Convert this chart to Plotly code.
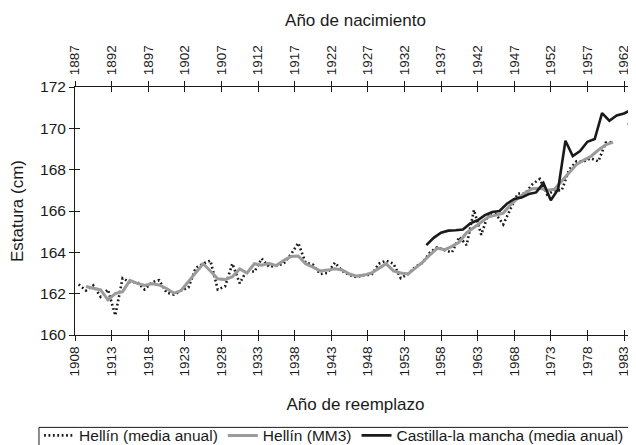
import plotly.graph_objects as go

# ---------------- data ----------------
years_annual = list(range(1908, 1985))
hellin_annual = [
    162.45, 162.15, 162.40, 161.85, 162.20, 160.95, 162.75, 162.55, 162.55, 162.20,  # 1908-1917
    162.55, 162.65, 162.05, 161.95, 162.15, 162.30, 163.25, 163.45, 163.60, 162.20,  # 1918-1927
    162.35, 163.45, 162.50, 163.15, 163.05, 163.70, 163.30, 163.35, 163.45, 163.90,  # 1928-1937
    164.45, 163.50, 163.40, 162.95, 163.00, 163.50, 163.10, 162.90, 162.80, 162.90,  # 1938-1947
    162.90, 163.45, 163.60, 163.45, 162.75, 162.95, 163.30, 163.50, 164.00, 164.25,  # 1948-1957
    164.10, 164.00, 164.75, 164.35, 166.05, 164.85, 165.90, 165.85, 165.35, 166.10,  # 1958-1967
    166.85, 166.85, 167.30, 167.55, 166.80, 167.00, 167.00, 168.00, 168.40, 168.40,  # 1968-1977
    168.55, 168.40, 169.30, 169.35, None, 170.20, 170.25,                            # 1978-1984
]

years_mm3 = list(range(1909, 1982))
hellin_mm3 = [
    162.35, 162.25, 162.18, 161.70, 162.00, 162.10, 162.64, 162.50, 162.40,          # 1909-1917
    162.48, 162.42, 162.25, 162.03, 162.15, 162.60, 163.00, 163.45, 163.10, 162.72,  # 1918-1927
    162.68, 162.82, 163.20, 163.00, 163.45, 163.38, 163.47, 163.36, 163.60, 163.80,  # 1928-1937
    163.82, 163.45, 163.28, 163.10, 163.14, 163.20, 163.15, 162.95, 162.85, 162.90,  # 1938-1947
    163.00, 163.22, 163.45, 163.10, 163.00, 162.95, 163.25, 163.52, 163.88, 164.20,  # 1948-1957
    164.13, 164.29, 164.50, 164.95, 165.20, 165.45, 165.72, 165.80, 165.90, 166.30,  # 1958-1967
    166.62, 166.88, 167.08, 167.10, 167.00, 167.05, 167.45, 167.85, 168.25, 168.46,  # 1968-1977
    168.65, 168.95, 169.20, 169.33,                                                  # 1978-1981
]

years_clm = list(range(1956, 1986))
castilla = [
    164.35, 164.70, 164.95, 165.05, 165.07, 165.10, 165.40, 165.55, 165.80, 165.95,  # 1956-1965
    166.00, 166.35, 166.58, 166.65, 166.82, 166.90, 167.35, 166.52, 167.05, 169.40,  # 1966-1975
    168.66, 168.90, 169.35, 169.48, 170.74, 170.37, 170.62, 170.72, 170.90, 171.10,  # 1976-1985
]

tick_reemplazo = list(range(1908, 1984, 5))
tick_nacimiento = list(range(1887, 1963, 5))
y_ticks = [160, 162, 164, 166, 168, 170, 172]

# ---------------- figure ----------------
FONT = "Liberation Sans, Arial, Helvetica, sans-serif"
INK = "#1a1a1a"
R0, R1 = 1908, 1984.64          # visible replacement-year window
SHIFT = 0.5                      # Hellín series sit mid-year
OFFSET = 21                      # birth year = replacement year - 21

fig = go.Figure()

fig.add_trace(go.Scatter(
    x=years_annual, y=hellin_annual, mode="lines", name="Hellín (media anual)",
    line=dict(color=INK, width=2.6, dash="1.8px,2.6px"), connectgaps=False,
    xaxis="x", yaxis="y"))
fig.add_trace(go.Scatter(
    x=years_mm3, y=hellin_mm3, mode="lines", name="Hellín (MM3)",
    line=dict(color="#9b9b9b", width=3), xaxis="x", yaxis="y"))
fig.add_trace(go.Scatter(
    x=years_clm, y=castilla, mode="lines", name="Castilla-la mancha (media anual)",
    line=dict(color=INK, width=2.6), xaxis="x3", yaxis="y"))

for xa, ya in [("x2", "y"), ("x4", "y"), ("x5", "y"), ("x6", "y"), ("x", "y2")]:
    fig.add_trace(go.Scatter(x=[None], y=[None], xaxis=xa, yaxis=ya,
                             showlegend=False, hoverinfo="skip"))

tick_common = dict(tickmode="array", ticklen=5, tickwidth=1, tickcolor=INK,
                   showgrid=False, zeroline=False, automargin=False)

# the page body adds an 8px margin; margins below compensate for it
fig.update_layout(
    width=636, height=445,
    margin=dict(l=67, r=8, t=79, b=118, autoexpand=False),
    paper_bgcolor="white", plot_bgcolor="white",
    font=dict(family=FONT, color=INK),
    showlegend=True,
    xaxis=dict(range=[R0 - SHIFT, R1 - SHIFT], visible=False, automargin=False),
    xaxis3=dict(range=[R0, R1], overlaying="x", visible=False, automargin=False),
    xaxis2=dict(range=[R0, R1], overlaying="x", anchor="y", side="bottom",
                tickvals=tick_reemplazo, ticktext=[str(v) for v in tick_reemplazo],
                ticks="outside", showline=True, linecolor=INK, linewidth=1,
                tickangle=-90, tickfont=dict(size=13.5, color=INK),
                title=dict(text="Año de reemplazo", font=dict(size=17, color=INK), standoff=22),
                **tick_common),
    xaxis4=dict(range=[R0 - OFFSET, R1 - OFFSET], overlaying="x", anchor="y", side="top",
                tickvals=tick_nacimiento, ticktext=[str(v) for v in tick_nacimiento],
                ticks="outside", showline=True, linecolor=INK, linewidth=1,
                tickangle=-90, tickfont=dict(size=13.5, color=INK), ticklabelstandoff=3,
                title=dict(text="Año de nacimiento", font=dict(size=17, color=INK), standoff=14),
                **tick_common),
    xaxis5=dict(range=[R0, R1], overlaying="x", anchor="y", side="bottom",
                tickvals=tick_reemplazo, ticks="inside", showticklabels=False,
                showline=False, **tick_common),
    xaxis6=dict(range=[R0 - OFFSET, R1 - OFFSET], overlaying="x", anchor="y", side="top",
                tickvals=tick_nacimiento, ticks="inside", showticklabels=False,
                showline=False, **tick_common),
    yaxis=dict(range=[160, 172], tickvals=y_ticks, ticks="outside",
               showline=True, linecolor=INK, linewidth=1,
               tickfont=dict(size=15.5, color=INK),
               title=dict(text="Estatura (cm)", font=dict(size=17, color=INK), standoff=14),
               **tick_common),
    yaxis2=dict(range=[160, 172], overlaying="y", anchor="x", side="left",
                tickvals=y_ticks, ticks="inside", showticklabels=False,
                showline=False, **tick_common),
    legend=dict(orientation="h", x=-0.064, xanchor="left", y=-0.338, yanchor="top",
                borderwidth=0, bgcolor="rgba(0,0,0,0)",
                font=dict(size=15.5, color=INK), itemwidth=30, tracegroupgap=0),
    shapes=[dict(type="rect", xref="paper", yref="paper",
                 x0=-0.0642, x1=1.05, y0=-0.3725, y1=-0.49,
                 line=dict(color=INK, width=1), fillcolor="rgba(0,0,0,0)", layer="below")],
)

fig.write_html("out.html")
